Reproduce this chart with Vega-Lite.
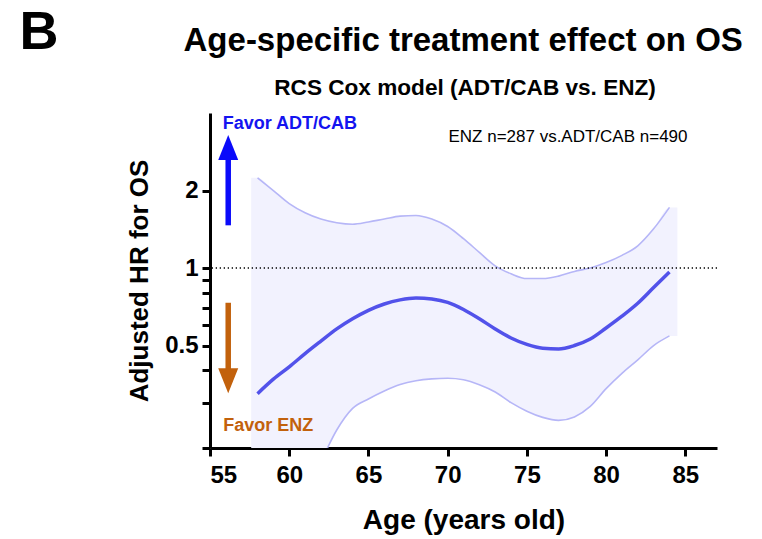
{
  "$schema": "https://vega.github.io/schema/vega-lite/v6.json",
  "width": 507,
  "height": 335,
  "autosize": "none",
  "padding": {"left": 210, "top": 113, "right": 45, "bottom": 91},
  "background": "white",
  "config": {
    "view": {"stroke": null},
    "font": "Liberation Sans",
    "axis": {
      "grid": false,
      "domainColor": "black",
      "domainWidth": 3,
      "tickColor": "black",
      "tickWidth": 3,
      "tickSize": 8,
      "labelFont": "Liberation Sans",
      "labelFontWeight": "bold",
      "labelFontSize": 24,
      "labelColor": "black",
      "titleFont": "Liberation Sans",
      "titleFontWeight": "bold",
      "titleColor": "black"
    }
  },
  "datasets": {
    "curve": [
      {"age": 58, "hr": 0.325, "lo": 0.065, "hi": 2.24},
      {"age": 59, "hr": 0.37, "lo": 0.085, "hi": 2.0},
      {"age": 60, "hr": 0.413, "lo": 0.11, "hi": 1.78},
      {"age": 61, "hr": 0.465, "lo": 0.14, "hi": 1.64},
      {"age": 62, "hr": 0.52, "lo": 0.178, "hi": 1.55},
      {"age": 63, "hr": 0.58, "lo": 0.235, "hi": 1.5},
      {"age": 64, "hr": 0.635, "lo": 0.285, "hi": 1.48},
      {"age": 65, "hr": 0.685, "lo": 0.31, "hi": 1.51},
      {"age": 66, "hr": 0.725, "lo": 0.333, "hi": 1.55},
      {"age": 67, "hr": 0.752, "lo": 0.353, "hi": 1.59},
      {"age": 68, "hr": 0.765, "lo": 0.365, "hi": 1.6},
      {"age": 69, "hr": 0.758, "lo": 0.371, "hi": 1.55},
      {"age": 70, "hr": 0.735, "lo": 0.373, "hi": 1.45},
      {"age": 71, "hr": 0.69, "lo": 0.368, "hi": 1.3},
      {"age": 72, "hr": 0.635, "lo": 0.352, "hi": 1.15},
      {"age": 73, "hr": 0.58, "lo": 0.33, "hi": 1.02},
      {"age": 74, "hr": 0.535, "lo": 0.3, "hi": 0.95},
      {"age": 75, "hr": 0.505, "lo": 0.278, "hi": 0.91},
      {"age": 76, "hr": 0.488, "lo": 0.263, "hi": 0.91},
      {"age": 77, "hr": 0.485, "lo": 0.256, "hi": 0.93},
      {"age": 78, "hr": 0.5, "lo": 0.264, "hi": 0.97},
      {"age": 79, "hr": 0.53, "lo": 0.29, "hi": 1.0},
      {"age": 80, "hr": 0.585, "lo": 0.34, "hi": 1.05},
      {"age": 81, "hr": 0.65, "lo": 0.39, "hi": 1.12},
      {"age": 82, "hr": 0.73, "lo": 0.44, "hi": 1.22},
      {"age": 83, "hr": 0.84, "lo": 0.5, "hi": 1.42},
      {"age": 84, "hr": 0.965, "lo": 0.545, "hi": 1.72}
    ],
    "band": [
      {"age": 57.6, "lo": 0.06, "hi": 2.24},
      {"age": 58, "lo": 0.065, "hi": 2.24},
      {"age": 59, "lo": 0.085, "hi": 2.0},
      {"age": 60, "lo": 0.11, "hi": 1.78},
      {"age": 61, "lo": 0.14, "hi": 1.64},
      {"age": 62, "lo": 0.178, "hi": 1.55},
      {"age": 63, "lo": 0.235, "hi": 1.5},
      {"age": 64, "lo": 0.285, "hi": 1.48},
      {"age": 65, "lo": 0.31, "hi": 1.51},
      {"age": 66, "lo": 0.333, "hi": 1.55},
      {"age": 67, "lo": 0.353, "hi": 1.59},
      {"age": 68, "lo": 0.365, "hi": 1.6},
      {"age": 69, "lo": 0.371, "hi": 1.55},
      {"age": 70, "lo": 0.373, "hi": 1.45},
      {"age": 71, "lo": 0.368, "hi": 1.3},
      {"age": 72, "lo": 0.352, "hi": 1.15},
      {"age": 73, "lo": 0.33, "hi": 1.02},
      {"age": 74, "lo": 0.3, "hi": 0.95},
      {"age": 75, "lo": 0.278, "hi": 0.91},
      {"age": 76, "lo": 0.263, "hi": 0.91},
      {"age": 77, "lo": 0.256, "hi": 0.93},
      {"age": 78, "lo": 0.264, "hi": 0.97},
      {"age": 79, "lo": 0.29, "hi": 1.0},
      {"age": 80, "lo": 0.34, "hi": 1.05},
      {"age": 81, "lo": 0.39, "hi": 1.12},
      {"age": 82, "lo": 0.44, "hi": 1.22},
      {"age": 83, "lo": 0.5, "hi": 1.42},
      {"age": 84, "lo": 0.545, "hi": 1.72},
      {"age": 84.5, "lo": 0.545, "hi": 1.72}
    ]
  },
  "layer": [
    {
      "data": {"name": "band"},
      "mark": {"type": "area", "interpolate": "monotone", "clip": true, "color": "#f2f2fe"},
      "encoding": {
        "x": {
          "field": "age",
          "type": "quantitative",
          "scale": {"domain": [55, 87], "nice": false, "zero": false},
          "axis": {
            "title": "Age (years old)",
            "titleFontSize": 28,
            "titlePadding": 19,
            "values": [55, 60, 65, 70, 75, 80, 85],
            "labelPadding": 7
          }
        },
        "y": {
          "field": "lo",
          "type": "quantitative",
          "scale": {"type": "log", "domain": [0.2, 4], "nice": false},
          "axis": {
            "title": "Adjusted HR for OS",
            "titleFontSize": 26,
            "titlePadding": 12,
            "values": [0.2, 0.3, 0.4, 0.5, 0.6, 0.7, 0.8, 0.9, 1, 2],
            "labelExpr": "datum.value == 0.5 ? '0.5' : datum.value == 1 ? '1' : datum.value == 2 ? '2' : ''",
            "labelPadding": 4
          }
        },
        "y2": {"field": "hi"}
      }
    },
    {
      "data": {"name": "curve"},
      "mark": {"type": "line", "interpolate": "monotone", "clip": true, "color": "#b6b6f7", "strokeWidth": 1.6},
      "encoding": {
        "x": {"field": "age", "type": "quantitative"},
        "y": {"field": "hi", "type": "quantitative"}
      }
    },
    {
      "data": {"name": "curve"},
      "mark": {"type": "line", "interpolate": "monotone", "clip": true, "color": "#b6b6f7", "strokeWidth": 1.6},
      "encoding": {
        "x": {"field": "age", "type": "quantitative"},
        "y": {"field": "lo", "type": "quantitative"}
      }
    },
    {
      "data": {"name": "curve"},
      "mark": {"type": "line", "interpolate": "monotone", "clip": true, "color": "#5252ea", "strokeWidth": 3.5},
      "encoding": {
        "x": {"field": "age", "type": "quantitative"},
        "y": {"field": "hr", "type": "quantitative"}
      }
    },
    {
      "data": {"values": [{}]},
      "mark": {"type": "rule", "color": "black", "strokeWidth": 1.3, "strokeDash": [1.3, 2.7]},
      "encoding": {"y": {"datum": 1}}
    },
    {
      "data": {"values": [{}]},
      "mark": {"type": "rule", "color": "#0a0afa", "strokeWidth": 5.5, "strokeCap": "butt"},
      "encoding": {"x": {"datum": 56.15}, "y": {"datum": 1.465}, "y2": {"datum": 2.66}}
    },
    {
      "data": {"values": [{}]},
      "mark": {"type": "point", "filled": true, "opacity": 1, "color": "#0a0afa", "size": 400, "shape": "M0,-1.25L1,1.25L-1,1.25Z"},
      "encoding": {"x": {"datum": 56.15}, "y": {"datum": 2.936}}
    },
    {
      "data": {"values": [{}]},
      "mark": {"type": "rule", "color": "#c2610c", "strokeWidth": 5.5, "strokeCap": "butt"},
      "encoding": {"x": {"datum": 56.15}, "y": {"datum": 0.733}, "y2": {"datum": 0.4}}
    },
    {
      "data": {"values": [{}]},
      "mark": {"type": "point", "filled": true, "opacity": 1, "color": "#c2610c", "size": 400, "shape": "M0,1.25L1,-1.25L-1,-1.25Z"},
      "encoding": {"x": {"datum": 56.15}, "y": {"datum": 0.3646}}
    },
    {
      "data": {"values": [{}]},
      "mark": {"type": "text", "text": "Favor ADT/CAB", "align": "left", "baseline": "middle", "font": "Liberation Sans", "fontWeight": "bold", "fontSize": 18, "color": "#1414f0"},
      "encoding": {"x": {"datum": 55.8}, "y": {"datum": 3.62}}
    },
    {
      "data": {"values": [{}]},
      "mark": {"type": "text", "text": "Favor ENZ", "align": "left", "baseline": "middle", "font": "Liberation Sans", "fontWeight": "bold", "fontSize": 18, "color": "#c2610c"},
      "encoding": {"x": {"datum": 55.84}, "y": {"datum": 0.243}}
    },
    {
      "data": {"values": [{}]},
      "mark": {"type": "text", "text": "ENZ n=287 vs.ADT/CAB n=490", "align": "left", "baseline": "middle", "font": "Liberation Sans", "fontSize": 17, "color": "black"},
      "encoding": {"x": {"datum": 70.05}, "y": {"datum": 3.22}}
    },
    {
      "data": {"values": [{}]},
      "mark": {"type": "text", "text": "B", "align": "center", "baseline": "middle", "font": "Liberation Sans", "fontWeight": "bold", "fontSize": 54, "color": "black"},
      "encoding": {"x": {"datum": 44.2}, "y": {"datum": 8.2}}
    },
    {
      "data": {"values": [{}]},
      "mark": {"type": "text", "text": "Age-specific treatment effect on OS", "align": "center", "baseline": "middle", "font": "Liberation Sans", "fontWeight": "bold", "fontSize": 33, "color": "black"},
      "encoding": {"x": {"datum": 70.98}, "y": {"datum": 7.6}}
    },
    {
      "data": {"values": [{}]},
      "mark": {"type": "text", "text": "RCS Cox model (ADT/CAB vs. ENZ)", "align": "center", "baseline": "middle", "font": "Liberation Sans", "fontWeight": "bold", "fontSize": 22.6, "color": "black"},
      "encoding": {"x": {"datum": 71.1}, "y": {"datum": 5.0}}
    }
  ]
}
